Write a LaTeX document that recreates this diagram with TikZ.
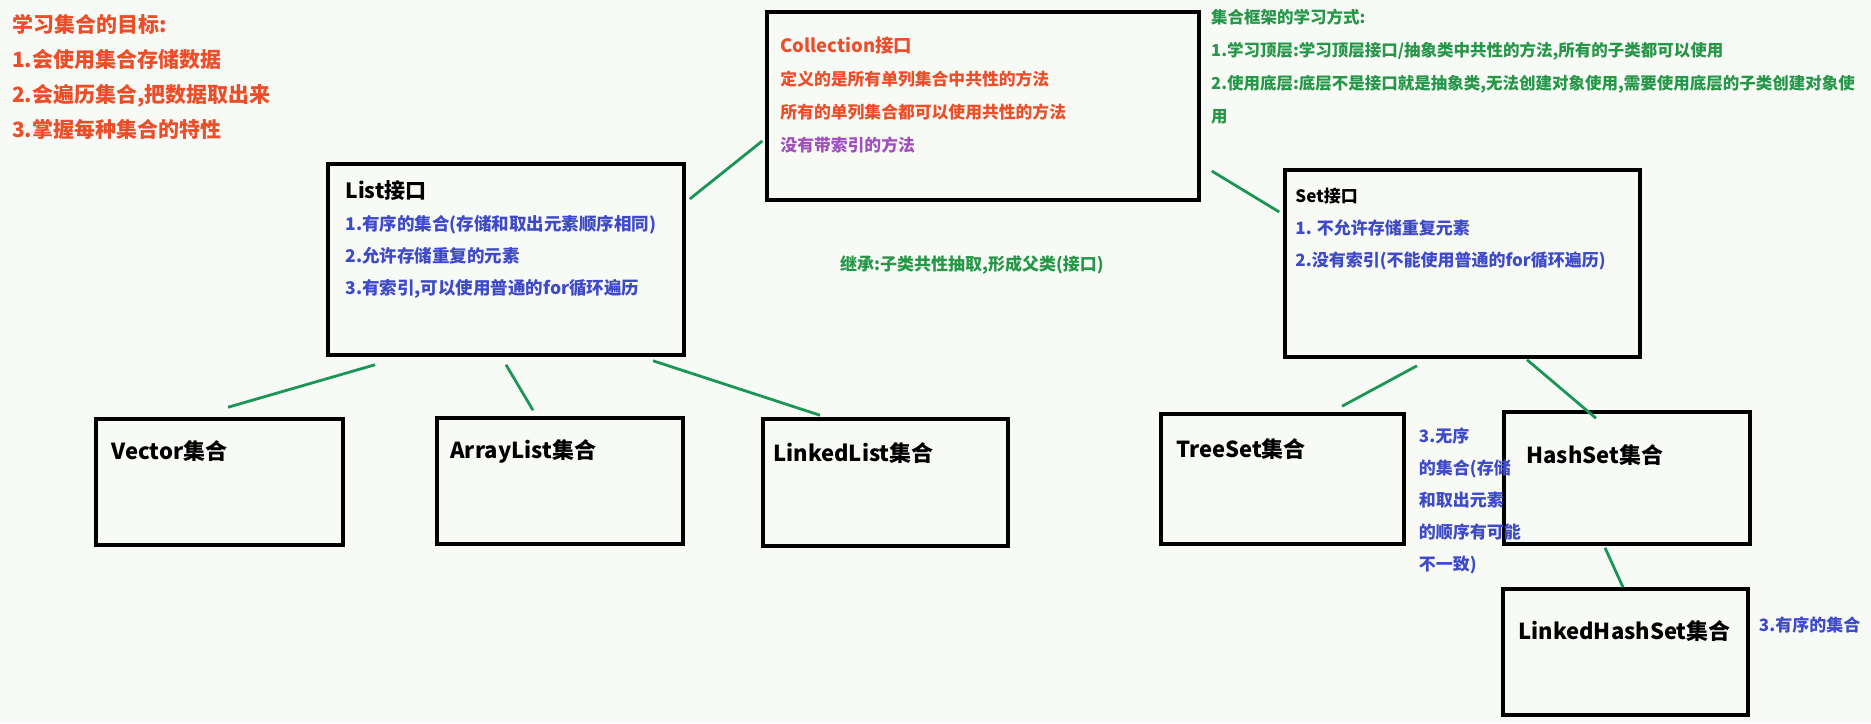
\documentclass[tikz,border=0pt]{standalone}
\usepackage{fontspec}
\setmainfont{Noto Sans CJK SC}
\usetikzlibrary{calc}
\definecolor{bgpaper}{RGB}{248,250,246}
\definecolor{goalred}{RGB}{236,78,42}
\definecolor{methpurple}{RGB}{160,80,190}
\definecolor{featblue}{RGB}{62,74,200}
\definecolor{notegreen}{RGB}{38,150,72}
\definecolor{linkgreen}{RGB}{28,150,88}
\begin{document}
\begin{tikzpicture}[x=1pt,y=-1pt,
  box/.style={draw=black,line width=3.5pt,minimum width=#1,inner sep=0pt},
  link/.style={draw=linkgreen,line width=2.8pt},
  boxname/.style={anchor=west,inner sep=0pt,font=\fontsize{22}{26}\selectfont\bfseries},
  txt/.style={anchor=north west,align=left,inner sep=0pt}]
  \fill[bgpaper] (0,0) rectangle (1871,723);
  \useasboundingbox (0,0) rectangle (1871,723);
  % top level interface and the two sub interfaces
  \node[box=432pt,minimum height=188pt] (coll) at (983,106) {};
  \node[box=356pt,minimum height=191pt] (list) at (506,259.5) {};
  \node[box=355pt,minimum height=187pt] (set) at (1462.5,263.5) {};
  % implementation classes
  \node[box=247pt,minimum height=126pt] (vector) at (219.5,482) {};
  \node[box=246pt,minimum height=126pt] (arrlist) at (560,481) {};
  \node[box=245pt,minimum height=127pt] (lnklist) at (885.5,482.5) {};
  \node[box=243pt,minimum height=130pt] (treeset) at (1282.5,479) {};
  \node[box=246pt,minimum height=132pt] (hashset) at (1627,478) {};
  \node[box=245pt,minimum height=126pt] (lhset) at (1625.5,652) {};
  \node[boxname] at ($(vector.north west)+(17,34)$) {Vector集合};
  \node[boxname] at ($(arrlist.north west)+(15,35)$) {ArrayList集合};
  \node[boxname] at ($(lnklist.north west)+(12,36)$) {LinkedList集合};
  \node[boxname] at ($(treeset.north west)+(17,37)$) {TreeSet集合};
  \node[boxname] at ($(hashset.north west)+(24,45)$) {HashSet集合};
  \node[boxname] at ($(lhset.north west)+(17,44)$) {LinkedHashSet集合};
  % texts in the boxes
  \node[txt,text=goalred,font=\fontsize{16.8}{33}\selectfont\bfseries] (colltxt) at ($(coll.north west)+(15,26)$)
    {{\fontsize{18.4}{33}\selectfont Collection接口}\\定义的是所有单列集合中共性的方法\\所有的单列集合都可以使用共性的方法\\\textcolor{methpurple}{没有带索引的方法}};
  \node[txt,text=featblue,font=\fontsize{17.5}{32}\selectfont\bfseries] (listtxt) at ($(list.north west)+(19,18.5)$)
    {\textcolor{black}{\fontsize{21}{32}\selectfont List接口}\\1.有序的集合(存储和取出元素顺序相同)\\2.允许存储重复的元素\\3.有索引,可以使用普通的for循环遍历};
  \node[txt,text=featblue,font=\fontsize{17}{32}\selectfont\bfseries] (settxt) at ($(set.north west)+(12,19.5)$)
    {\textcolor{black}{Set接口}\\1. 不允许存储重复元素\\2.没有索引(不能使用普通的for循环遍历)};
  % free notes
  \node[txt,text=goalred,font=\fontsize{21}{35}\selectfont\bfseries] (goals) at (12,14.5)
    {学习集合的目标:\\1.会使用集合存储数据\\2.会遍历集合,把数据取出来\\3.掌握每种集合的特性};
  \node[txt,text=notegreen,font=\fontsize{16.5}{33}\selectfont\bfseries] (howto) at (1211,9)
    {集合框架的学习方式:\\1.学习顶层:学习顶层接口/抽象类中共性的方法,所有的子类都可以使用\\2.使用底层:底层不是接口就是抽象类,无法创建对象使用,需要使用底层的子类创建对象使\\用};
  \node[anchor=west,inner sep=0pt,text=notegreen,font=\fontsize{17}{20}\selectfont\bfseries] (inherit) at (840,265)
    {继承:子类共性抽取,形成父类(接口)};
  \node[txt,text=featblue,font=\fontsize{17}{32}\selectfont\bfseries] (unordered) at ($(treeset.north east)+(13,15.5)$)
    {3.无序\\的集合(存储\\和取出元素\\的顺序有可能\\不一致)};
  \node[anchor=west,inner sep=0pt,text=featblue,font=\fontsize{17}{20}\selectfont\bfseries] (ordered) at ($(lhset.north east)+(9,38)$)
    {3.有序的集合};
  % connectors
  \draw[link] ($(list.east)+(4,-60.5)$) -- ($(coll.west)+(-3,35)$);
  \draw[link] ($(coll.east)+(11,65)$) -- ($(set.west)+(-4,-51.5)$);
  \draw[link] ($(list.south)+(-131,8)$) -- ($(vector.north)+(8.5,-10)$);
  \draw[link] ($(list.south)+(0,8)$) -- ($(arrlist.north)+(-27,-6)$);
  \draw[link] ($(list.south)+(147,4)$) -- ($(lnklist.north)+(-65.5,-2)$);
  \draw[link] ($(set.south)+(-45.5,7)$) -- ($(treeset.north)+(59.5,-6)$);
  \draw[link] ($(set.south)+(64.5,1)$) -- ($(hashset.north)+(-31,8)$);
  \draw[link] ($(hashset.south)+(-22,2)$) -- ($(lhset.north)+(-2.5,0)$);
\end{tikzpicture}
\end{document}
